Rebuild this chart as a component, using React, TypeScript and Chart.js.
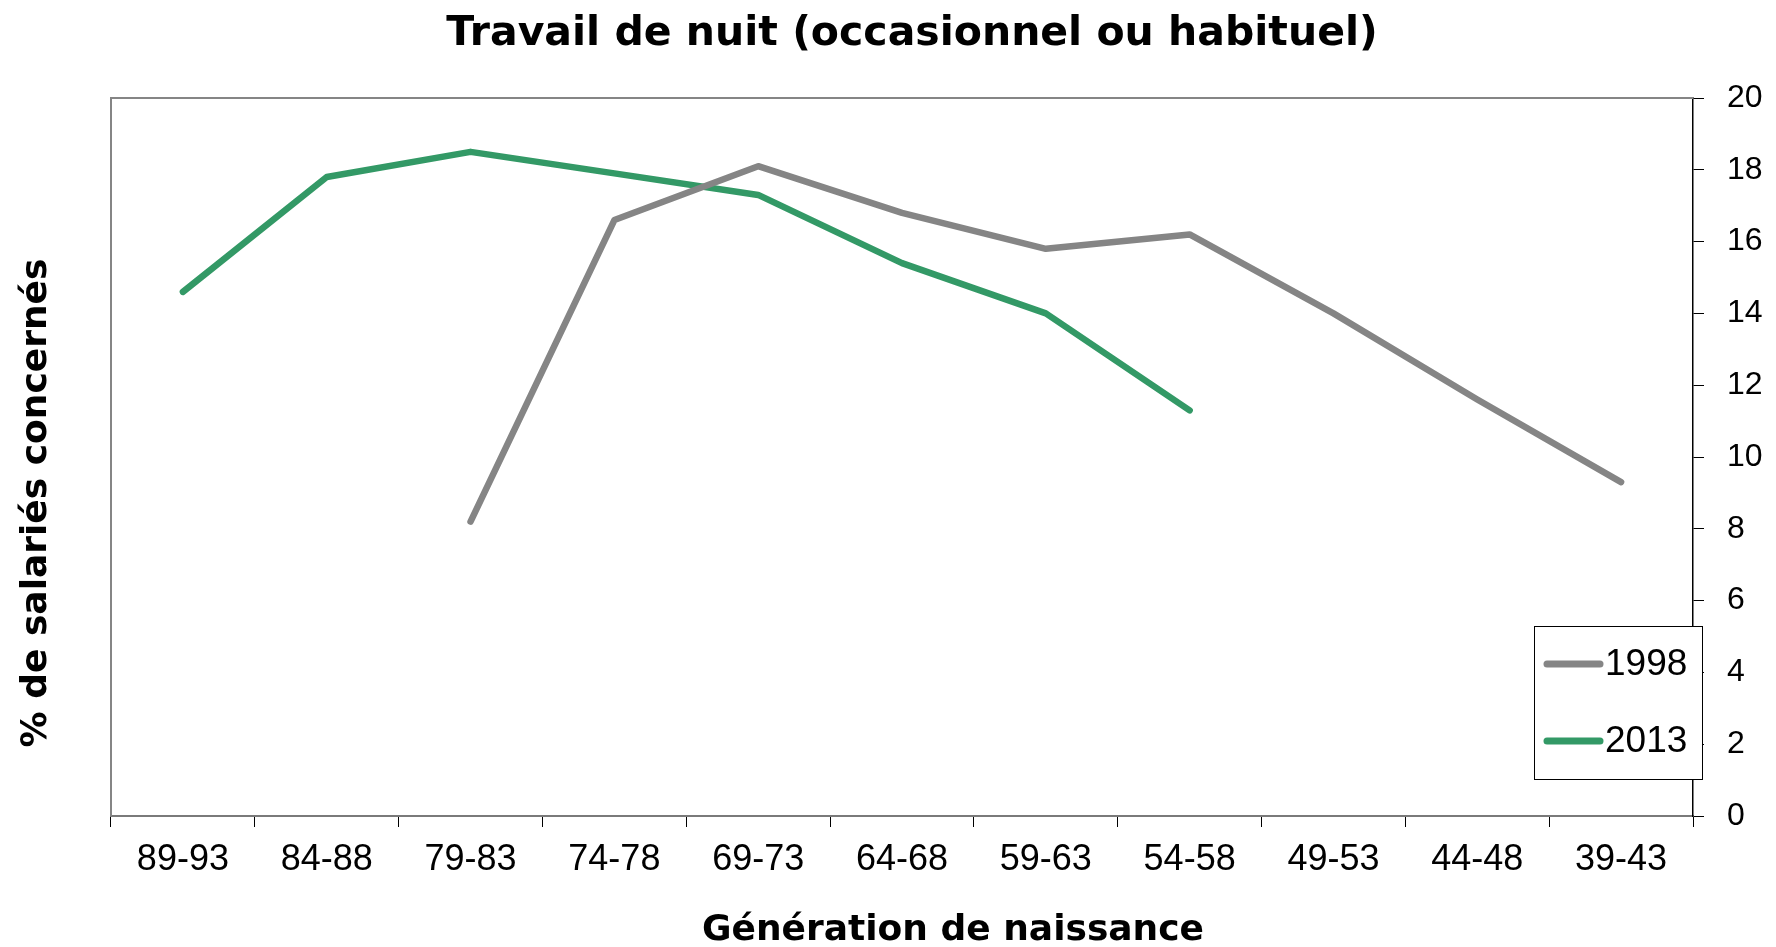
import React, { useEffect, useRef } from "react";
import { Chart, registerables } from "chart.js";

Chart.register(...registerables);

const chartTitle = "Travail de nuit (occasionnel ou habituel)";
const xAxisTitle = "Génération de naissance";
const yAxisTitle = "% de salariés concernés";

const categories = ["89-93", "84-88", "79-83", "74-78", "69-73", "64-68", "59-63", "54-58", "49-53", "44-48", "39-43"];
const seriesLabels = ["1998", "2013"];
const values1998 = [null, null, 8.2, 16.6, 18.1, 16.8, 15.8, 16.2, 14.0, 11.6, 9.3];
const values2013 = [14.6, 17.8, 18.5, 17.9, 17.3, 15.4, 14.0, 11.3, null, null, null];
const seriesColors = ["#858585", "#339966"];
const yMin = 0;
const yMax = 20;
const yStep = 2;

const TITLE_FONT = '"Comic Sans MS", "DejaVu Sans", sans-serif';
const TICK_FONT = '"Liberation Sans", Arial, sans-serif';

const decorPlugin = {
  id: "decor",
  beforeDatasetsDraw(chart: any) {
    const { ctx, chartArea } = chart;
    ctx.save();
    ctx.strokeStyle = "#858585";
    ctx.lineWidth = 2;
    ctx.beginPath();
    ctx.moveTo(chartArea.left, chartArea.bottom);
    ctx.lineTo(chartArea.left, chartArea.top);
    ctx.lineTo(chartArea.right, chartArea.top);
    ctx.stroke();
    ctx.restore();
  },
  afterDraw(chart: any) {
    const { ctx } = chart;
    ctx.save();
    ctx.fillStyle = "#000";
    ctx.textAlign = "center";
    ctx.textBaseline = "middle";
    ctx.font = `bold 41px ${TITLE_FONT}`;
    ctx.fillText(chartTitle, 912, 34);
    ctx.font = `bold 36px ${TITLE_FONT}`;
    ctx.fillText(xAxisTitle, 953, 931);
    ctx.save();
    ctx.translate(37, 503);
    ctx.rotate(-Math.PI / 2);
    ctx.fillText(yAxisTitle, 0, 0);
    ctx.restore();

    // legend
    const bx = 1534, by = 626, bw = 168, bh = 153;
    ctx.fillStyle = "#fff";
    ctx.fillRect(bx, by, bw, bh);
    ctx.strokeStyle = "#000";
    ctx.lineWidth = 1;
    ctx.strokeRect(bx + 0.5, by + 0.5, bw, bh);
    const rows = [664, 741];
    chart.data.datasets.forEach((ds: any, i: number) => {
      const y = rows[i];
      ctx.strokeStyle = ds.borderColor;
      ctx.lineWidth = 7;
      ctx.lineCap = "round";
      ctx.beginPath();
      ctx.moveTo(1547, y);
      ctx.lineTo(1600, y);
      ctx.stroke();
      ctx.fillStyle = "#000";
      ctx.textAlign = "left";
      ctx.textBaseline = "middle";
      ctx.font = `37px ${TICK_FONT}`;
      ctx.fillText(ds.label, 1605, y + 1);
    });
    ctx.restore();
  },
};

export default function App() {
  const canvasRef = useRef<HTMLCanvasElement | null>(null);

  useEffect(() => {
    if (!canvasRef.current) return;
    const chart = new Chart(canvasRef.current, {
      type: "line",
      data: {
        labels: categories,
        datasets: [
          {
            label: seriesLabels[0],
            data: values1998,
            borderColor: seriesColors[0],
            backgroundColor: seriesColors[0],
            borderWidth: 6.5,
            pointRadius: 0,
            tension: 0,
            borderCapStyle: "round",
            borderJoinStyle: "round",
            spanGaps: false,
          },
          {
            label: seriesLabels[1],
            data: values2013,
            borderColor: seriesColors[1],
            backgroundColor: seriesColors[1],
            borderWidth: 6.5,
            pointRadius: 0,
            tension: 0,
            borderCapStyle: "round",
            borderJoinStyle: "round",
            spanGaps: false,
          },
        ],
      },
      options: {
        responsive: false,
        animation: false,
        devicePixelRatio: 1,
        layout: { padding: { left: 111, top: 98, right: 0, bottom: 0 } },
        plugins: {
          legend: { display: false },
          title: { display: false },
          tooltip: { enabled: false },
        },
        scales: {
          x: {
            type: "category",
            offset: true,
            grid: {
              display: true,
              drawOnChartArea: false,
              drawTicks: true,
              tickLength: 11,
              color: "#000",
              offset: true,
            },
            border: { display: true, color: "#7a7a7a", width: 2 },
            ticks: {
              color: "#000",
              font: { family: TICK_FONT, size: 36 },
              padding: 11,
              maxRotation: 0,
              autoSkip: false,
            },
            afterFit: (s: any) => {
              s.height = 131;
            },
          },
          y: {
            position: "right",
            min: yMin,
            max: yMax,
            grid: {
              display: true,
              drawOnChartArea: false,
              drawTicks: true,
              tickLength: 11,
              color: "#000",
            },
            border: { display: true, color: "#000", width: 1.5 },
            ticks: {
              stepSize: yStep,
              color: "#000",
              font: { family: TICK_FONT, size: 32 },
              padding: 23,
            },
            afterFit: (s: any) => {
              s.width = 83;
            },
          },
        },
      },
      plugins: [decorPlugin],
    });
    return () => chart.destroy();
  }, []);

  return (
    <div style={{ position: "absolute", left: 0, top: 0, width: 1776, height: 947, background: "#fff" }}>
      <canvas ref={canvasRef} width={1776} height={947} style={{ display: "block" }} />
    </div>
  );
}
